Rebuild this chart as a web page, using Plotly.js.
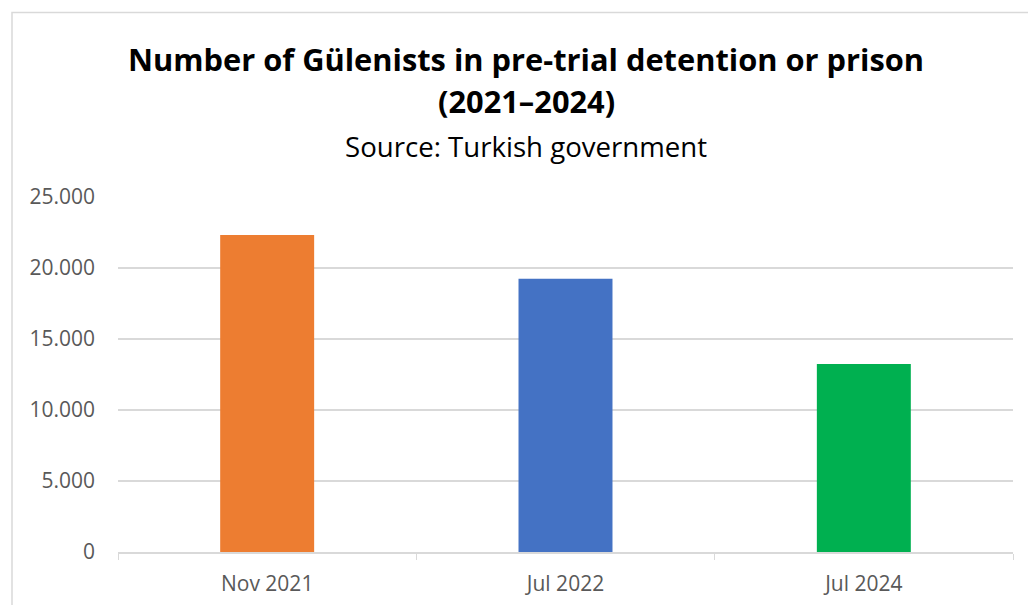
<!DOCTYPE html>
<html>
<head>
<meta charset="utf-8">
<script src="https://cdn.plot.ly/plotly-3.0.1.min.js"></script>
<style>
html,body{margin:0;padding:0;background:#fff;}
#chart{width:1028px;height:605px;}
</style>
</head>
<body>
<div id="chart"></div>
<script>
const categories = ["Nov 2021", "Jul 2022", "Jul 2024"];
const values = [22330, 19240, 13240];
const barColors = ["#ED7D31", "#4472C4", "#00B050"];
const yTicks = [0, 5000, 10000, 15000, 20000, 25000];

const FONT = "Open Sans, sans-serif";
const paperY = py => (551.7 - py) / 354.4;
const paperX = px => (px - 118) / 895;

const trace = {
  type: "bar",
  x: categories,
  y: values,
  marker: {color: barColors},
  hoverinfo: "x+y"
};

const layout = {
  width: 1028,
  height: 605,
  margin: {l: 118, r: 15, t: 197, b: 53},
  paper_bgcolor: "#ffffff",
  plot_bgcolor: "#ffffff",
  separators: ",.",
  bargap: 0.685,
  showlegend: false,
  title: {
    text: "<b>Number of Gülenists in pre-trial detention or prison</b>",
    font: {family: FONT, size: 30.8, color: "#000000"},
    x: 526 / 1028,
    xanchor: "center",
    y: 1 - 60 / 605,
    yanchor: "middle",
    yref: "container"
  },
  annotations: [{
    text: "<b>(2021–2024)</b>",
    xref: "paper", yref: "paper",
    x: paperX(526), y: paperY(101),
    xanchor: "center", yanchor: "middle",
    showarrow: false,
    font: {family: FONT, size: 30.8, color: "#000000"}
  }, {
    text: "Source: Turkish government",
    xref: "paper", yref: "paper",
    x: paperX(526), y: paperY(146),
    xanchor: "center", yanchor: "middle",
    showarrow: false,
    font: {family: FONT, size: 27.6, color: "#000000"}
  }],
  xaxis: {
    type: "category",
    showline: true,
    linecolor: "#d9d9d9",
    linewidth: 1.5,
    ticks: "outside",
    tickson: "boundaries",
    ticklen: 6,
    tickcolor: "#d9d9d9",
    ticklabelstandoff: 12,
    tickfont: {family: FONT, size: 21, color: "#595959"},
    showgrid: false,
    fixedrange: true
  },
  yaxis: {
    range: [0, 25000],
    tickvals: yTicks,
    tickformat: ",d",
    showgrid: true,
    gridcolor: "#d9d9d9",
    gridwidth: 1.5,
    zeroline: false,
    showline: false,
    ticks: "",
    ticklabelstandoff: 22,
    tickfont: {family: FONT, size: 21, color: "#595959"},
    fixedrange: true
  },
  shapes: [{
    type: "rect",
    xref: "paper", yref: "paper",
    x0: paperX(12), x1: 1.1,
    y0: -0.3, y1: paperY(13),
    line: {color: "#d9d9d9", width: 1.5},
    fillcolor: "rgba(0,0,0,0)",
    layer: "below"
  }]
};

Plotly.newPlot("chart", [trace], layout, {displayModeBar: false, staticPlot: true});
</script>
</body>
</html>
